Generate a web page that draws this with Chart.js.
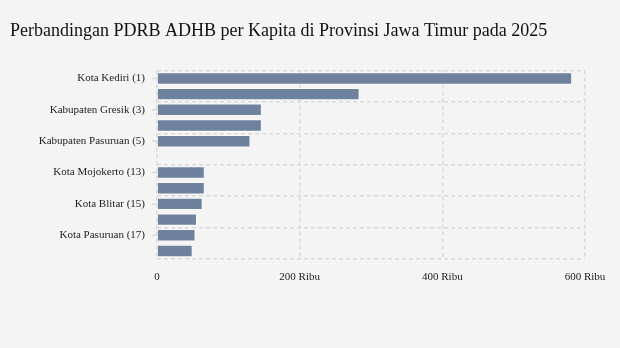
<!DOCTYPE html>
<html>
<head>
<meta charset="utf-8">
<script src="https://cdn.jsdelivr.net/npm/chart.js@4"></script>
<style>
  html, body { margin: 0; padding: 0; background: #f4f4f4; }
  #wrap { width: 620px; height: 348px; }
</style>
</head>
<body>
<div id="wrap"><canvas id="c"></canvas></div>
<script>
var judul = 'Perbandingan PDRB ADHB per Kapita di Provinsi Jawa Timur pada 2025';
var wilayah = [
  'Kota Kediri (1)', 'Kota Surabaya (2)', 'Kabupaten Gresik (3)', 'Kabupaten Sidoarjo (4)',
  'Kabupaten Pasuruan (5)', '...',
  'Kota Mojokerto (13)', 'Kabupaten Banyuwangi (14)', 'Kota Blitar (15)', 'Kota Probolinggo (16)',
  'Kota Pasuruan (17)', 'Kabupaten Tuban (18)'
];
// ribu rupiah
var nilai = [582, 284, 147, 147, 131, null, 67, 67, 64, 56, 54, 50];
var xTicks = [0, 200, 400, 600];

var abu = '#dadada';
var serif = '"Liberation Serif", "DejaVu Serif", serif';

// tanda tick kecil di tengah label sumbu y (hanya label yang tampil)
var tickKecil = {
  id: 'tickKecil',
  afterDraw: function (chart) {
    var y = chart.scales.y, c = chart.ctx;
    c.save();
    c.strokeStyle = abu;
    c.lineWidth = 1.5;
    y.ticks.forEach(function (t, i) {
      if (i % 2) return;
      var py = y.getPixelForTick(i);
      c.beginPath();
      c.moveTo(y.right - 5, py);
      c.lineTo(y.right, py);
      c.stroke();
    });
    c.restore();
  }
};

var ctx = document.getElementById('c').getContext('2d');
new Chart(ctx, {
  type: 'bar',
  data: {
    labels: wilayah,
    datasets: [{
      label: 'PDRB ADHB per Kapita',
      data: nilai,
      backgroundColor: '#6e829e',
      borderColor: 'rgba(255,255,255,0.45)',
      borderWidth: 1,
      barPercentage: 0.9,
      categoryPercentage: 0.88,
    }],
  },
  options: {
    indexAxis: 'y',
    responsive: true,
    maintainAspectRatio: false,
    animation: false,
    layout: { padding: { left: 10, right: 35, top: 0, bottom: 52 } },
    plugins: {
      legend: { display: false },
      tooltip: { enabled: false },
      title: {
        display: true,
        text: judul,
        align: 'start',
        color: '#111',
        font: { family: serif, size: 18, weight: 'normal' },
        padding: { top: 20, bottom: 29 },
      },
    },
    scales: {
      x: {
        min: 0,
        max: 600,
        afterBuildTicks: function (s) { s.ticks = xTicks.map(function (v) { return { value: v }; }); },
        ticks: {
          color: '#222',
          font: { family: serif, size: 11 },
          padding: 12,
          callback: function (v) { return v === 0 ? '0' : v + ' Ribu'; },
        },
        grid: { color: abu, lineWidth: 1.5, drawTicks: false },
        border: { display: false, dash: [4, 3] },
      },
      y: {
        afterFit: function (s) { s.width = 147; },
        ticks: {
          color: '#222',
          font: { family: serif, size: 11 },
          padding: 12,
          autoSkip: false,
          callback: function (v, i) { return i % 2 ? '' : this.getLabelForValue(v); },
        },
        grid: {
          lineWidth: 1.5,
          drawTicks: false,
          color: function (c) { return (c.index === undefined || c.index % 2 === 0) ? abu : 'rgba(0,0,0,0)'; },
        },
        border: { display: false, dash: [4, 3] },
      },
    },
  },
  plugins: [tickKecil],
});
</script>
</body>
</html>
